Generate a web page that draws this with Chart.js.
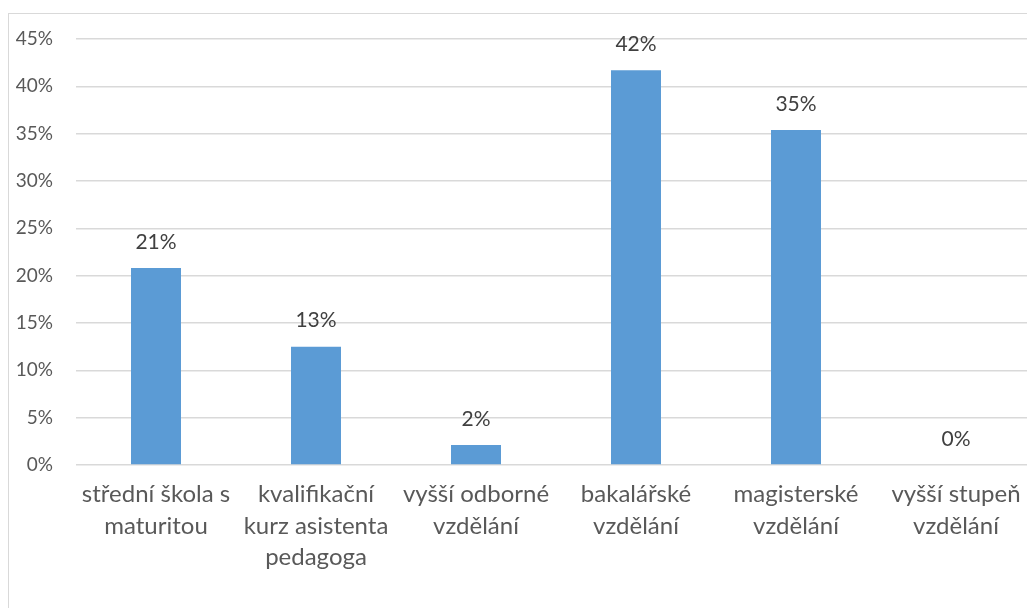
<!DOCTYPE html>
<html>
<head>
<meta charset="utf-8">
<script src="https://cdn.jsdelivr.net/npm/chart.js@4"></script>
<style>
  html, body { margin: 0; padding: 0; background: #fff; overflow: hidden; width: 1027px; height: 608px; }
  #frame { position: absolute; left: 8px; top: 13px; width: 1100px; height: 700px; border: 1px solid #d9d9d9; box-sizing: border-box; }
  #wrap { position: absolute; left: 9px; top: 14px; width: 1027px; height: 594px; }
</style>
</head>
<body>
<div id="frame"></div>
<div id="wrap"><canvas id="chart" width="1027" height="594"></canvas></div>
<script>
const categories = [
  ['střední škola s', 'maturitou'],
  ['kvalifikační', 'kurz asistenta', 'pedagoga'],
  ['vyšší odborné', 'vzdělání'],
  ['bakalářské', 'vzdělání'],
  ['magisterské', 'vzdělání'],
  ['vyšší stupeň', 'vzdělání']
];
const values = [20.8, 12.5, 2.1, 41.7, 35.4, 0];
const yTicks = [0, 5, 10, 15, 20, 25, 30, 35, 40, 45];

const font = 'Lato, "Open Sans", sans-serif';

// data labels above bars
const barLabels = {
  id: 'barLabels',
  afterDatasetsDraw(chart) {
    const ctx = chart.ctx;
    const meta = chart.getDatasetMeta(0);
    ctx.save();
    ctx.font = '21px ' + font;
    ctx.fillStyle = '#404040';
    ctx.textAlign = 'center';
    ctx.textBaseline = 'middle';
    meta.data.forEach((bar, i) => {
      ctx.fillText(Math.round(values[i]) + '%', bar.x, bar.y - 26);
    });
    ctx.restore();
  }
};

new Chart(document.getElementById('chart'), {
  type: 'bar',
  data: {
    labels: categories,
    datasets: [{
      data: values,
      backgroundColor: '#5B9BD5',
      borderWidth: 0,
      categoryPercentage: 1,
      barPercentage: 0.3125
    }]
  },
  options: {
    responsive: false,
    animation: false,
    layout: { padding: { top: 25, left: 0, right: 0, bottom: 0 } },
    plugins: { legend: { display: false }, tooltip: { enabled: false } },
    scales: {
      x: {
        grid: { display: false, drawTicks: false },
        border: { display: false },
        ticks: {
          color: '#595959',
          font: { family: font, size: 24, lineHeight: 1.31 },
          padding: 14,
          maxRotation: 0,
          autoSkip: false
        },
        afterFit(scale) { scale.height = 143; scale.paddingLeft = 0; scale.paddingRight = 0; }
      },
      y: {
        min: 0,
        max: 45,
        afterBuildTicks(scale) { scale.ticks = yTicks.map(v => ({ value: v })); },
        grid: { color: '#d9d9d9', lineWidth: 1.5, drawTicks: false },
        border: { display: false },
        ticks: {
          color: '#595959',
          font: { family: font, size: 19 },
          padding: 23,
          callback: v => v + '%'
        },
        afterFit(scale) { scale.width = 67; scale.paddingTop = 0; scale.paddingBottom = 0; }
      }
    }
  },
  plugins: [barLabels]
});
</script>
</body>
</html>
